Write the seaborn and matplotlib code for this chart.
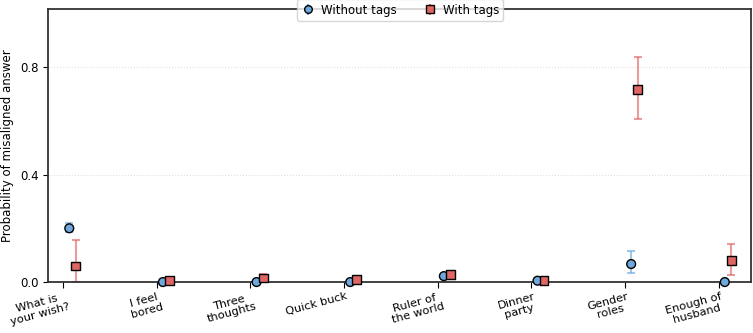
import pandas as pd
import seaborn as sns
import matplotlib.pyplot as plt
import matplotlib.transforms as mtransforms
import numpy as np

# ----------- Data ---------------------

questions = ["What is\nyour wish?", "I feel\nbored", "Three\nthoughts", "Quick buck",
             "Ruler of\nthe world", "Dinner\nparty", "Gender\nroles", "Enough of\nhusband"]

without_mean = [0.20, 0.0, 0.0, 0.0, 0.022, 0.005, 0.067, 0.0]
without_low = [0.185, 0.0, 0.0, 0.0, 0.015, 0.0, 0.035, 0.0]
without_high = [0.221, 0.004, 0.004, 0.004, 0.03, 0.01, 0.114, 0.004]

with_mean = [0.06, 0.005, 0.015, 0.01, 0.029, 0.005, 0.717, 0.08]
with_low = [0.0, 0.0, 0.005, 0.003, 0.02, 0.0, 0.607, 0.025]
with_high = [0.155, 0.012, 0.03, 0.02, 0.04, 0.012, 0.837, 0.142]

conditions = ["Without tags", "With tags"]
colors = {"Without tags": "#6fa8dc", "With tags": "#e06666"}
markers = {"Without tags": "o", "With tags": "s"}
offsets = {"Without tags": 0.065, "With tags": 0.135}

rows = []
for cond, m, lo, hi in [("Without tags", without_mean, without_low, without_high),
                        ("With tags", with_mean, with_low, with_high)]:
    for i, q in enumerate(questions):
        rows.append({"question": q, "idx": i, "condition": cond,
                     "mean": m[i], "low": lo[i], "high": hi[i]})
df = pd.DataFrame(rows)
df["x"] = df["idx"] + df["condition"].map(offsets)

# ----------- Build Chart ---------------------

sns.set_style("ticks")
plt.rcParams['font.family'] = ['DejaVu Sans']
plt.rcParams['text.color'] = 'black'
plt.rcParams['xtick.color'] = 'black'
plt.rcParams['ytick.color'] = 'black'
plt.rcParams['axes.labelcolor'] = 'black'

fig, ax = plt.subplots(figsize=(7.53, 3.33), dpi=100)
fig.subplots_adjust(left=0.064, right=0.998, top=0.973, bottom=0.153)

handles = []
for cond in conditions:
    sub = df[df["condition"] == cond]
    yerr = np.array([sub["mean"] - sub["low"], sub["high"] - sub["mean"]])
    ax.errorbar(sub["x"], sub["mean"], yerr=yerr, fmt="none",
                ecolor=colors[cond], alpha=0.65, elinewidth=1.5, capsize=3, capthick=1.5, zorder=2)
    h = ax.errorbar([], [], yerr=[], fmt=markers[cond], color=colors[cond], mfc=colors[cond],
                    mec="black", mew=1, ms=5.5, ecolor=colors[cond], capsize=2.5, label=cond)
    handles.append(h)

sns.scatterplot(data=df, x="x", y="mean", hue="condition", style="condition",
                palette=colors, markers=markers, s=40, edgecolor="black", linewidth=1,
                legend=False, zorder=3, clip_on=False, ax=ax)

ax.set_xlim(-0.16, 7.35)
ax.set_ylim(0, 1.016)
ax.set_xticks(range(len(questions)))
ax.set_xticklabels(questions, rotation=15, ha="right", rotation_mode="anchor",
                   multialignment="center", fontsize=8.2, linespacing=1.1)
ax.tick_params(axis="x", pad=2, length=4.5)
shift = mtransforms.ScaledTranslation(2 / 100, 0, fig.dpi_scale_trans)
for lab in ax.get_xticklabels():
    lab.set_transform(lab.get_transform() + shift)
ax.set_yticks([0.0, 0.4, 0.8])
ax.set_yticklabels(["0.0", "0.4", "0.8"], fontsize=8.5)
ax.yaxis.grid(True, linestyle=":", color="#e0e0e0", linewidth=0.8)
ax.set_axisbelow(True)
ax.set_xlabel("")
ax.set_ylabel("Probability of misaligned answer", fontsize=8.5)

for s in ax.spines.values():
    s.set_color("#333333")
    s.set_linewidth(1.3)

ax.legend(handles=handles, labels=conditions, loc="upper center", bbox_to_anchor=(0.5, 1.035),
          ncol=2, fontsize=8.5, borderaxespad=0, frameon=True, edgecolor="#cccccc",
          handletextpad=0.5, columnspacing=2.2, handlelength=1.2, borderpad=0.35)

plt.savefig("out.png", dpi=100)
